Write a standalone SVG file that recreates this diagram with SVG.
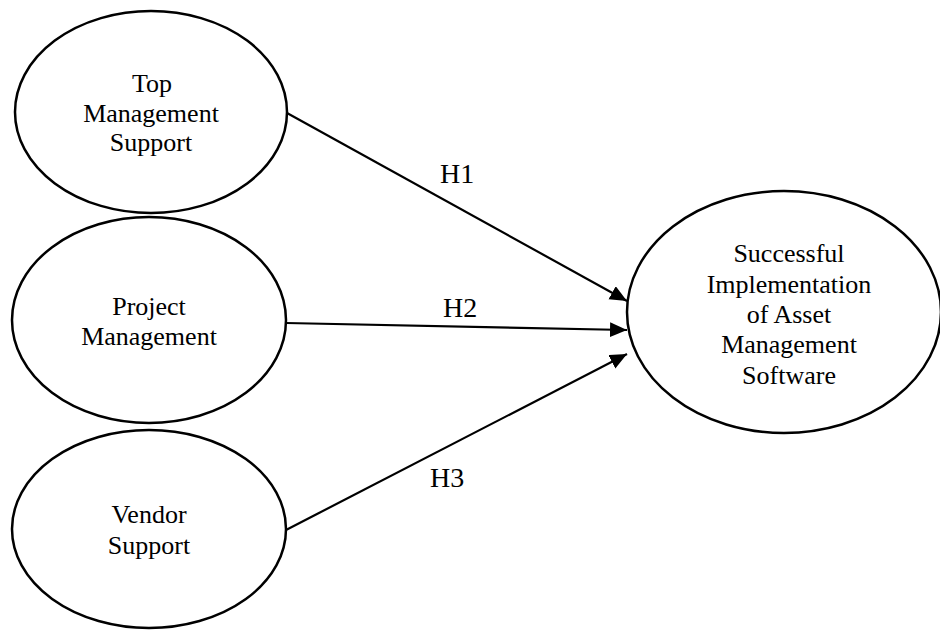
<svg xmlns="http://www.w3.org/2000/svg" width="940" height="630" viewBox="0 0 940 630">
<style>
.node ellipse{fill:#fff;stroke:#000;stroke-width:2.5}
.node text{font-family:"Liberation Serif","Times New Roman",serif;font-size:26px;fill:#000;text-anchor:middle}
.conn line{stroke:#000;stroke-width:2.2}
.lbl{font-family:"Liberation Serif","Times New Roman",serif;font-size:28px;fill:#000}
</style>
<defs>
<marker id="arr" markerUnits="userSpaceOnUse" markerWidth="18" markerHeight="16" refX="17" refY="7.5" orient="auto">
<path d="M0,0 L17,7.5 L0,15 z" fill="#000"/>
</marker>
</defs>
<rect width="940" height="630" fill="#fff"/>
<g id="top">
<g class="node"><ellipse cx="151" cy="112" rx="136" ry="101"/>
<text x="152" y="92">Top</text><text x="151" y="122">Management</text><text x="151" y="151">Support</text></g>
</g>
<g id="project">
<g class="node"><ellipse cx="149" cy="320" rx="137" ry="103"/>
<text x="149" y="315">Project</text><text x="149" y="345">Management</text></g>
</g>
<g id="vendor">
<g class="node"><ellipse cx="149" cy="529" rx="137" ry="99"/>
<text x="149" y="523">Vendor</text><text x="149" y="554">Support</text></g>
</g>
<g id="success">
<g class="node"><ellipse cx="784" cy="312" rx="157" ry="121"/>
<text x="789" y="262">Successful</text><text x="789" y="293">Implementation</text><text x="789" y="323">of Asset</text><text x="789" y="353">Management</text><text x="789" y="384">Software</text></g>
</g>
<g id="connectors" class="conn">
<line x1="287" y1="113" x2="627" y2="301" marker-end="url(#arr)"/>
<line x1="286" y1="323" x2="627" y2="330" marker-end="url(#arr)"/>
<line x1="286" y1="530" x2="627" y2="354" marker-end="url(#arr)"/>
<text class="lbl" x="440" y="183">H1</text>
<text class="lbl" x="443" y="317">H2</text>
<text class="lbl" x="430" y="487">H3</text>
</g>
</svg>
